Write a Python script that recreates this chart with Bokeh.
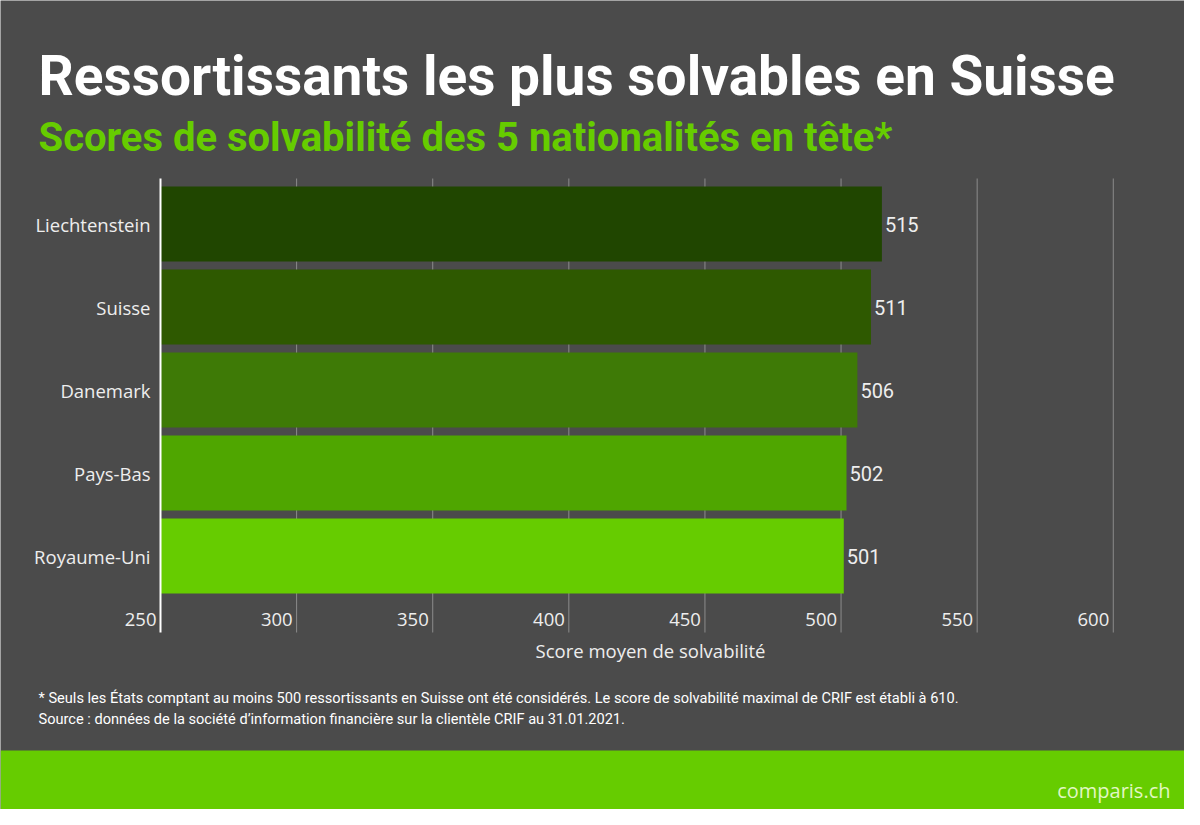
from bokeh.plotting import figure
from bokeh.models import Range1d, ColumnDataSource, Label, BoxAnnotation
from bokeh.embed import file_html
from bokeh.resources import INLINE
from bokeh.core.properties import value

# ---------------- data ----------------
title = "Ressortissants les plus solvables en Suisse"
subtitle = "Scores de solvabilité des 5 nationalités en tête*"
countries = ["Liechtenstein", "Suisse", "Danemark", "Pays-Bas", "Royaume-Uni"]
scores = [515, 511, 506, 502, 501]
bar_colors = ["#204600", "#2e5900", "#3e7a06", "#4fa600", "#66cc00"]
x_ticks = [250, 300, 350, 400, 450, 500, 550, 600]
x_tick_labels = ["250", "300", "350", "400", "450", "500", "550", "600"]
x_max = 610
x_label = "Score moyen de solvabilité"
footnotes = [
    "* Seuls les États comptant au moins 500 ressortissants en Suisse ont été considérés. Le score de solvabilité maximal de CRIF est établi à 610.",
    "Source : données de la société d’information financière sur la clientèle CRIF au 31.01.2021.",
]
brand = "comparis.ch"

# ---------------- layout / style ----------------
BG = "#4b4b4b"
GREEN = "#66cc00"
TXT = "#eeeeee"
GRID = "#8c8c8c"
W, H = 1184, 809
PL, PR, PT, PB = 160, 1140, 178, 632      # plotting area on the page (px)
ROW = 83.0                                 # px between bar centres
ROW1 = 555.5                               # page y of the lowest bar's centre

x0 = x_ticks[0]
kx = (PR - PL) / (x_max - x0)              # px per score point


def y_of(Y):                               # page px -> category units
    return 1 + (ROW1 - Y) / ROW


p = figure(width=W, height=H,
           x_range=Range1d(x0 - PL / kx, x_max + (W - PR) / kx),
           y_range=Range1d(y_of(H), y_of(0)),
           x_axis_type=None, y_axis_type=None, min_border=0,
           output_backend="svg", toolbar_location=None,
           background_fill_color=BG, border_fill_color=BG, outline_line_color=None)

n = len(countries)
ypos = list(range(n, 0, -1))
src = ColumnDataSource(dict(y=ypos, score=scores, color=bar_colors, name=countries,
                            label=[str(s) for s in scores]))
y_lo, y_hi = y_of(PB), y_of(PT)

# green brand band at the bottom
p.add_layout(BoxAnnotation(top=y_of(750), fill_color=GREEN, fill_alpha=1.0,
                           line_color=None, level="underlay"))

# vertical grid lines
p.segment(x0=x_ticks[1:], x1=x_ticks[1:], y0=[y_lo] * (len(x_ticks) - 1),
          y1=[y_hi] * (len(x_ticks) - 1), line_color=GRID, line_width=1)

# bars + value labels
p.hbar(y="y", left=x0, right="score", height=75 / ROW, fill_color="color",
       line_color=None, source=src)
p.text(x="score", y="y", text="label", source=src, x_offset=3, text_align="left",
       text_baseline="middle", text_font=value("Roboto"), text_font_size="20px",
       text_color=TXT)

# y axis: line + category labels
p.segment(x0=[x0], x1=[x0], y0=[y_lo], y1=[y_hi], line_color="white", line_width=2)
p.text(x=[x0] * n, y=ypos, text=countries, x_offset=-10, text_align="right",
       text_baseline="middle", text_font=value("Open Sans"), text_font_size="18.5px",
       text_color=TXT)

# x tick labels (right-aligned next to each grid line) and axis title
p.text(x=x_ticks, y=[y_of(619)] * len(x_ticks), text=x_tick_labels, x_offset=-4,
       text_align="right", text_baseline="middle", text_font=value("Open Sans"),
       text_font_size="18.5px", text_color=TXT)
p.add_layout(Label(x=(x0 + x_max) / 2, y=H - 650, x_units="data", y_units="screen",
                   text=x_label, text_font="Open Sans", text_font_size="18.5px",
                   text_color=TXT, text_align="center", text_baseline="middle"))

# titles
p.add_layout(Label(x=38, y=H - 75, x_units="screen", y_units="screen", text=title,
                   text_font="Roboto", text_font_size="55px", text_font_style="bold",
                   text_color="white", text_baseline="middle"))
p.add_layout(Label(x=38, y=H - 137, x_units="screen", y_units="screen", text=subtitle,
                   text_font="Roboto", text_font_size="40px", text_font_style="bold",
                   text_color=GREEN, text_baseline="middle"))

# footnotes
for i, fn in enumerate(footnotes):
    p.add_layout(Label(x=38, y=H - (697 + 21 * i), x_units="screen", y_units="screen",
                       text=fn, text_font="Roboto", text_font_size="14.6px",
                       text_color="white", text_baseline="middle"))

# brand
p.add_layout(Label(x=1170, y=H - 790, x_units="screen", y_units="screen", text=brand,
                   text_font="Open Sans", text_font_size="20px", text_color="#e2f7c4",
                   text_align="right", text_baseline="middle"))

open("out.html", "w").write(file_html(p, INLINE))
